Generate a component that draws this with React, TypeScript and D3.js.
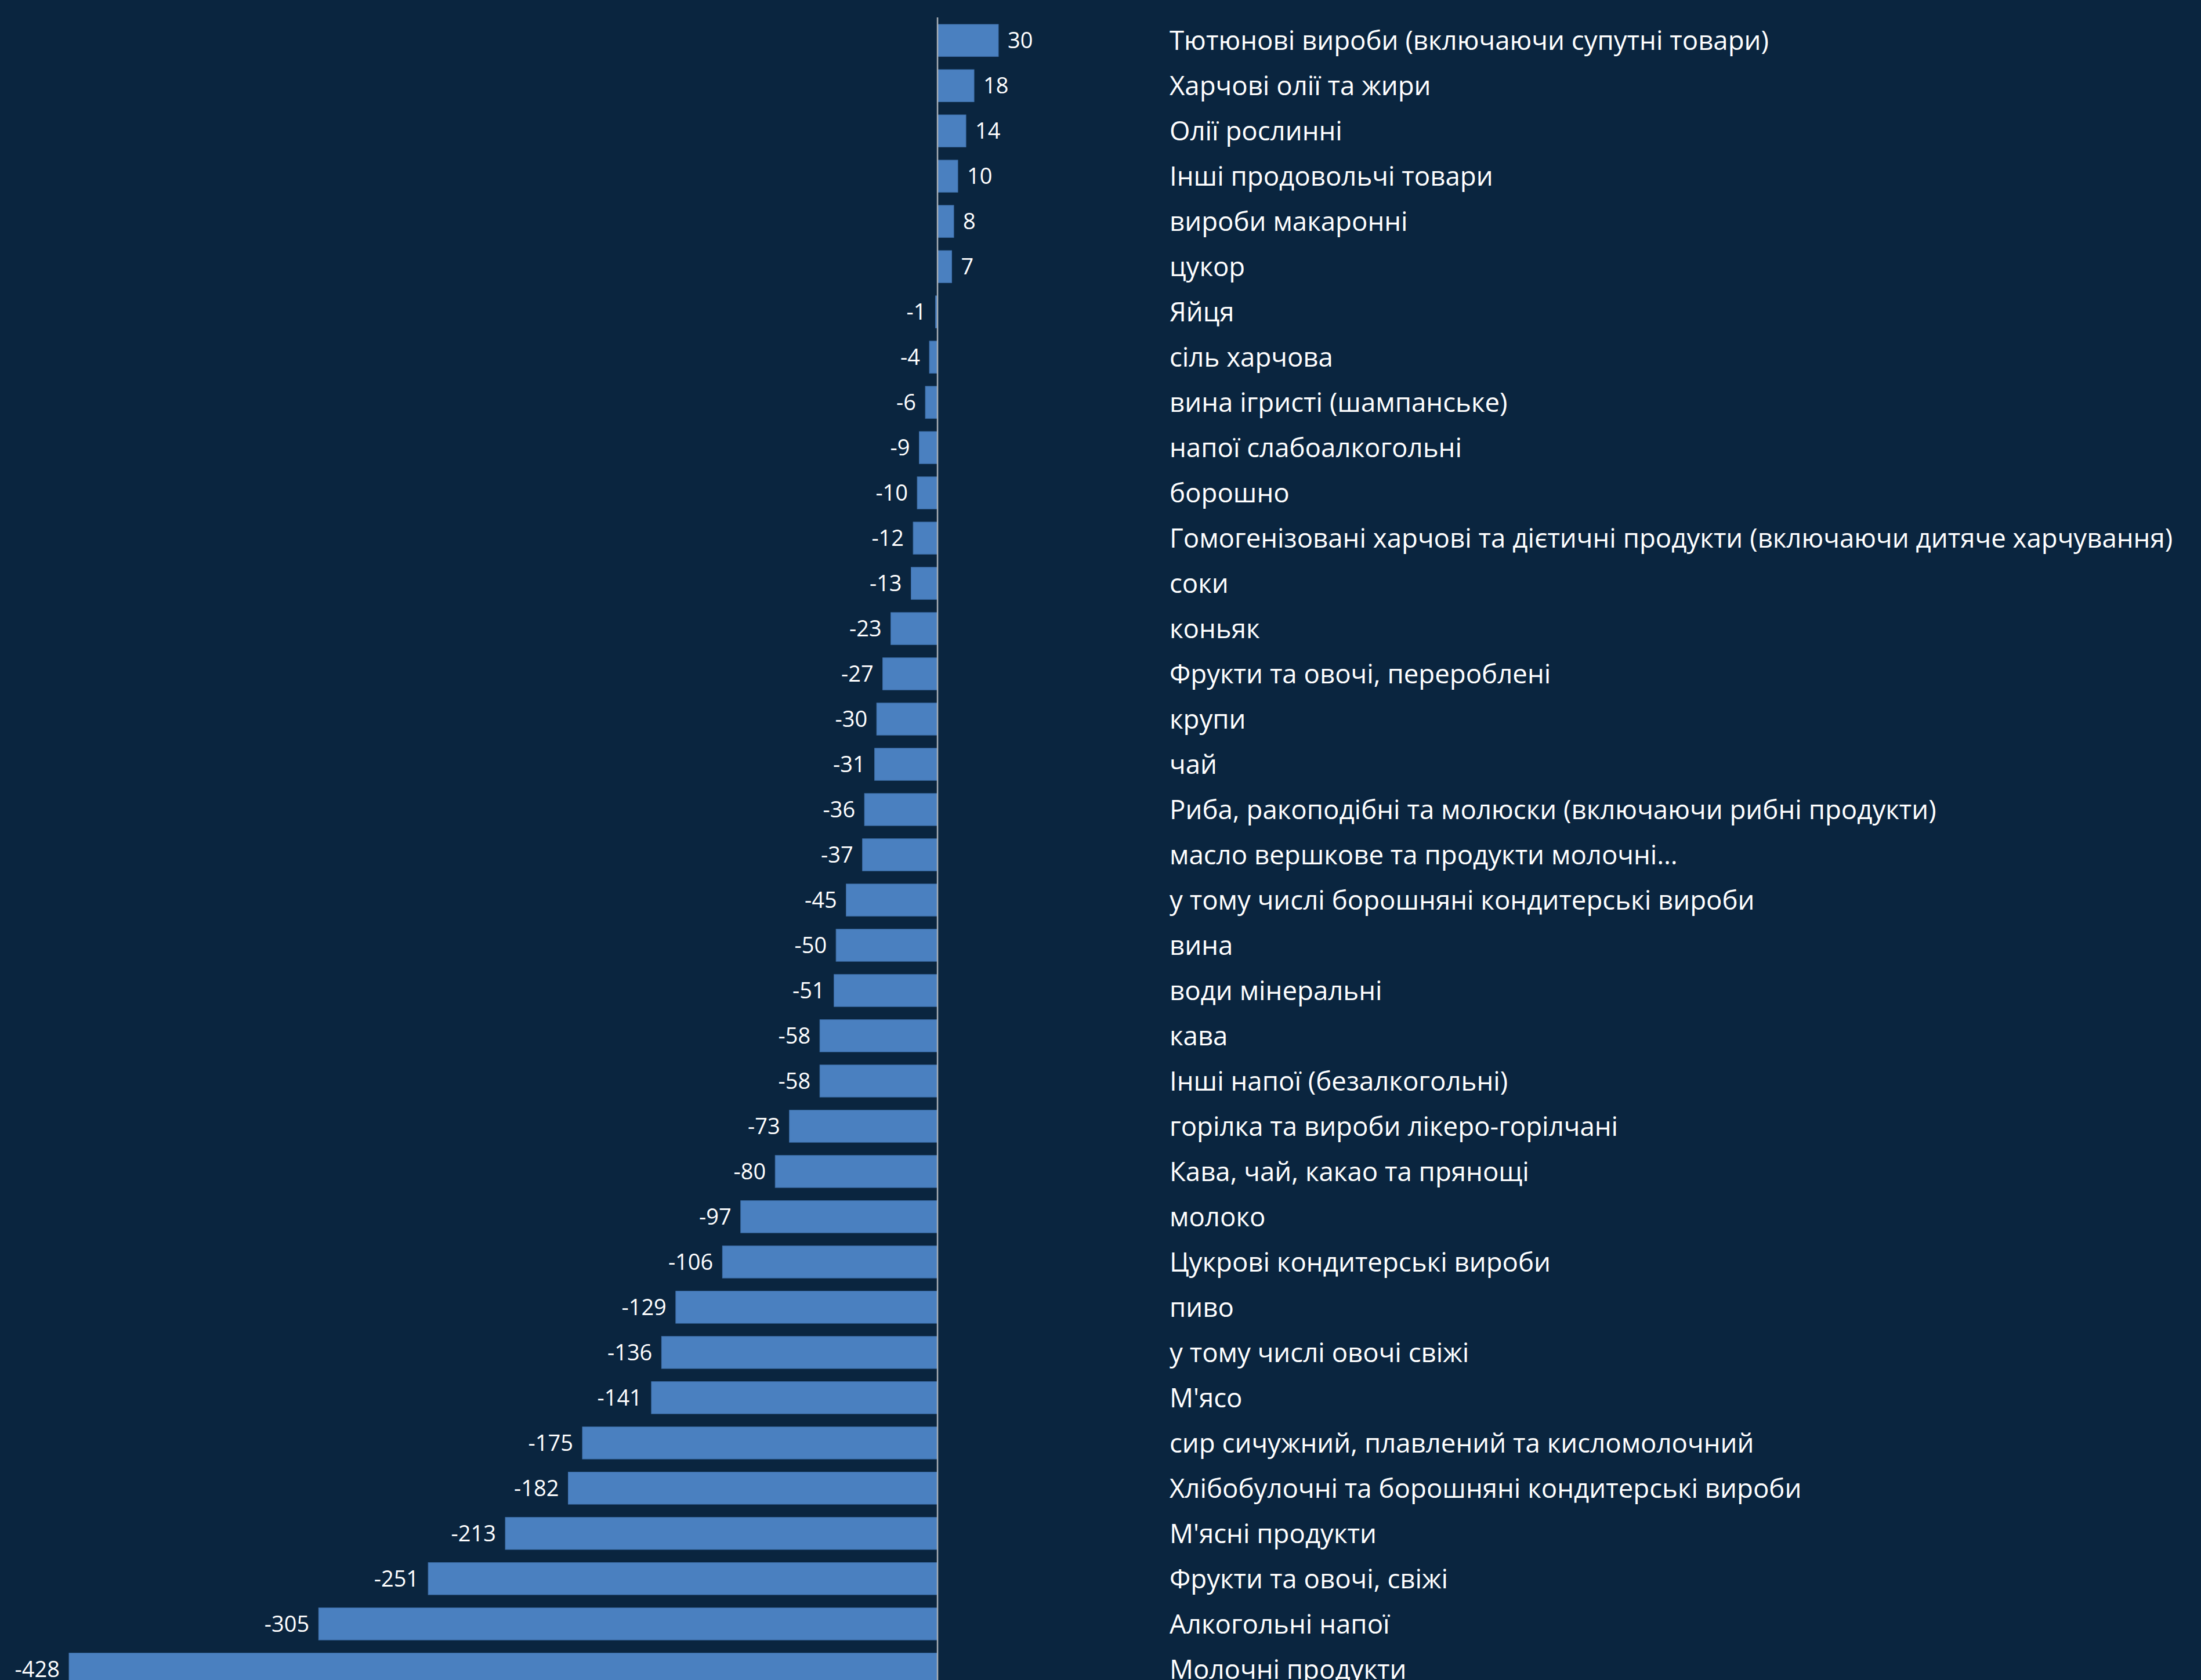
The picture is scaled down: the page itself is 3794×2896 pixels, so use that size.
import React from "react";
import * as d3 from "d3";

const categories: string[] = [
  "Тютюнові вироби (включаючи супутні товари)",
  "Харчові олії та жири",
  "Олії рослинні",
  "Інші продовольчі товари",
  "вироби макаронні",
  "цукор",
  "Яйця",
  "сіль харчова",
  "вина ігристі (шампанське)",
  "напої слабоалкогольні",
  "борошно",
  "Гомогенізовані харчові та дієтичні продукти (включаючи дитяче харчування)",
  "соки",
  "коньяк",
  "Фрукти та овочі, перероблені",
  "крупи",
  "чай",
  "Риба, ракоподібні та молюски (включаючи рибні продукти)",
  "масло вершкове та продукти молочні…",
  "у тому числі борошняні кондитерські вироби",
  "вина",
  "води мінеральні",
  "кава",
  "Інші напої (безалкогольні)",
  "горілка та вироби лікеро-горілчані",
  "Кава, чай, какао та прянощі",
  "молоко",
  "Цукрові кондитерські вироби",
  "пиво",
  "у тому числі овочі свіжі",
  "М'ясо",
  "сир сичужний, плавлений та кисломолочний",
  "Хлібобулочні та борошняні кондитерські вироби",
  "М'ясні продукти",
  "Фрукти та овочі, свіжі",
  "Алкогольні напої",
  "Молочні продукти",
];

const values: number[] = [
  30, 18, 14, 10, 8, 7, -1, -4, -6, -9, -10, -12, -13, -23, -27, -30, -31, -36,
  -37, -45, -50, -51, -58, -58, -73, -80, -97, -106, -129, -136, -141, -175,
  -182, -213, -251, -305, -428,
];

const W = 3794;
const H = 2896;
const BG = "#0a253f";
const BAR = "#4a80c0";
const FONT = "'Open Sans', 'Noto Sans', sans-serif";

export default function App() {
  const x = d3.scaleLinear().domain([-428, 30]).range([119, 1721]);
  const y = d3
    .scaleBand<number>()
    .domain(d3.range(categories.length))
    .range([30, 2917])
    .paddingInner(0.29)
    .paddingOuter(0.154);
  const bw = y.bandwidth();
  const x0 = x(0);
  const valFs = 38;
  const catFs = 45.6;
  const labelX = 2016;

  return (
    <svg
      width={W}
      height={H}
      style={{ position: "absolute", left: 0, top: 0, display: "block" }}
    >
      <rect x={0} y={0} width={W} height={H} fill={BG} />
      {values.map((v, i) => {
        const y0 = y(i) as number;
        const cy = y0 + bw / 2;
        const xa = Math.min(x(v), x0);
        const wv = Math.abs(x(v) - x0);
        return (
          <g key={i}>
            <rect
              x={xa}
              y={y0}
              width={wv}
              height={bw}
              fill={BAR}
              stroke="#3f70aa"
              strokeWidth={1}
            />
            <text
              x={v >= 0 ? x(v) + 16 : x(v) - 16}
              y={cy + valFs * 0.36}
              textAnchor={v >= 0 ? "start" : "end"}
              fontFamily={FONT}
              fontSize={valFs}
              fill="#ffffff"
            >
              {v}
            </text>
            <text
              x={labelX}
              y={cy + catFs * 0.36}
              fontFamily={FONT}
              fontSize={catFs}
              fill="#ffffff"
            >
              {categories[i]}
            </text>
          </g>
        );
      })}
      <line x1={x0} x2={x0} y1={30} y2={H} stroke="#a9afb6" strokeWidth={2.5} />
    </svg>
  );
}
